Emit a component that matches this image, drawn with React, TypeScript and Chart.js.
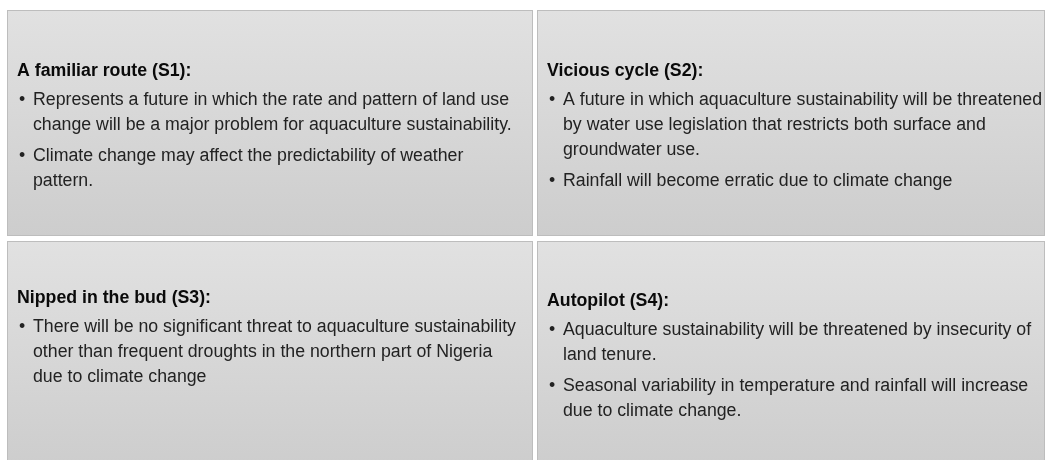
import React, { useEffect, useRef } from "react";
import { Chart, registerables } from "chart.js";

Chart.register(...registerables);

// ---- content (data) ----
const panelTitles = [
  "A familiar route (S1):",
  "Vicious cycle (S2):",
  "Nipped in the bud (S3):",
  "Autopilot (S4):",
];

const bulletsS1 = [
  ["Represents a future in which the rate and pattern of land use", "change will be a major problem for aquaculture sustainability."],
  ["Climate change may affect the predictability of weather", "pattern."],
];
const bulletsS2 = [
  ["A future in which aquaculture sustainability will be threatened", "by water use legislation that restricts both surface and", "groundwater use."],
  ["Rainfall will become erratic due to climate change"],
];
const bulletsS3 = [
  ["There will be no significant threat to aquaculture sustainability", "other than frequent droughts in the northern part of Nigeria", "due to climate change"],
];
const bulletsS4 = [
  ["Aquaculture sustainability will be threatened by insecurity of", "land tenure."],
  ["Seasonal variability in temperature and rainfall will increase", "due to climate change."],
];
const panelBullets = [bulletsS1, bulletsS2, bulletsS3, bulletsS4];

// ---- layout ----
const W = 1049;
const H = 460;
const panelRects = [
  { x: 7.5, y: 10.5, w: 525, h: 225 },
  { x: 537.5, y: 10.5, w: 507, h: 225 },
  { x: 7.5, y: 241.5, w: 525, h: 225 },
  { x: 537.5, y: 241.5, w: 507, h: 225 },
];
const titleBaselines = [76, 76, 303, 306];
const FONT = '"Liberation Sans", Arial, sans-serif';
const SX = 0.985;

const panelsPlugin = {
  id: "panels",
  beforeDraw(chart: any) {
    const ctx: CanvasRenderingContext2D = chart.ctx;
    ctx.save();
    ctx.fillStyle = "#ffffff";
    ctx.fillRect(0, 0, W, H);
    panelRects.forEach((r, i) => {
      const g = ctx.createLinearGradient(0, r.y, 0, r.y + r.h);
      g.addColorStop(0, "#e1e1e1");
      g.addColorStop(1, "#cdcdcd");
      ctx.fillStyle = g;
      ctx.fillRect(r.x, r.y, r.w, r.h);
      ctx.strokeStyle = "#bdbdbd";
      ctx.lineWidth = 1;
      ctx.strokeRect(r.x, r.y, r.w, r.h);

      const left = Math.round(r.x) + 9;
      let y = titleBaselines[i];
      ctx.textBaseline = "alphabetic";
      ctx.textAlign = "left";
      const put = (s: string, x: number, yy: number) => {
        ctx.save();
        ctx.translate(x, yy);
        ctx.scale(SX, 1);
        ctx.fillText(s, 0, 0);
        ctx.restore();
      };
      ctx.fillStyle = "#0a0a0a";
      ctx.font = `bold 18px ${FONT}`;
      put(panelTitles[i], left, y);
      y += 29;
      ctx.font = `18px ${FONT}`;
      ctx.fillStyle = "#222222";
      panelBullets[i].forEach((lines, bi) => {
        if (bi > 0) y += 6;
        put("\u2022", left + 2, y);
        lines.forEach((ln) => {
          put(ln, left + 16, y);
          y += 25;
        });
      });
    });
    ctx.restore();
  },
};

export default function App() {
  const ref = useRef<HTMLCanvasElement | null>(null);
  useEffect(() => {
    if (!ref.current) return;
    const chart = new Chart(ref.current, {
      type: "bar",
      data: { labels: [], datasets: [] },
      options: {
        animation: false,
        responsive: false,
        devicePixelRatio: 1,
        layout: { padding: 0 },
        scales: { x: { display: false }, y: { display: false } },
        plugins: { legend: { display: false }, tooltip: { enabled: false } },
      },
      plugins: [panelsPlugin],
    });
    return () => chart.destroy();
  }, []);
  return (
    <div style={{ position: "fixed", left: 0, top: 0, width: W, height: H, background: "#fff" }}>
      <canvas ref={ref} width={W} height={H} style={{ width: W, height: H, display: "block" }} />
    </div>
  );
}
